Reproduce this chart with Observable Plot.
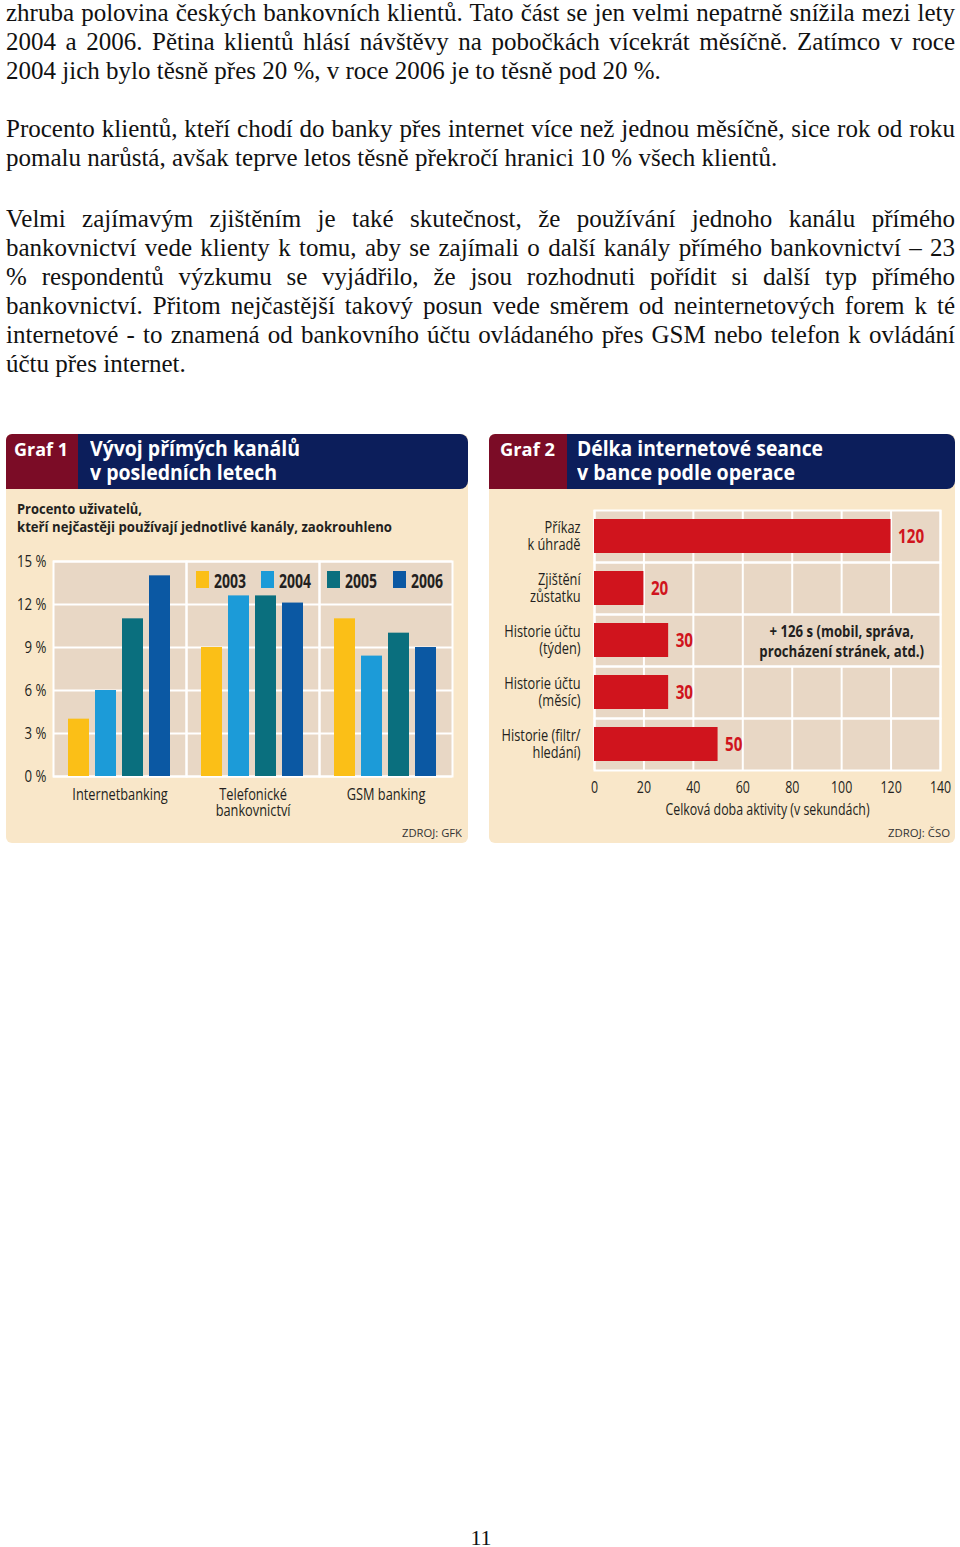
<!DOCTYPE html>
<html><head><meta charset="utf-8">
<script src="https://cdn.jsdelivr.net/npm/d3@7"></script>
<script src="https://cdn.jsdelivr.net/npm/@observablehq/plot@0.6"></script>
<style>
html,body{margin:0;padding:0;background:#fff;}
body{width:960px;height:1547px;position:relative;overflow:hidden;}
.line{position:absolute;left:6px;font-family:"Liberation Serif","Times New Roman",serif;font-size:25px;line-height:29px;white-space:nowrap;color:#111;}
.panel{position:absolute;background:#f9e7c9;border-radius:6px;overflow:hidden;}
.hdr-red{position:absolute;left:0;top:0;height:55px;background:#7b0c26;}
.hdr-navy{position:absolute;top:0;height:55px;background:#0c1e5b;border-radius:0 8px 8px 0;}
.t{position:absolute;white-space:nowrap;font-family:"Open Sans",sans-serif;transform-origin:0 50%;}
.plotbox{position:absolute;left:0;}
.swatch{position:absolute;width:13px;height:17px;}
.pnum{position:absolute;font-family:"Liberation Serif","Times New Roman",serif;font-size:22px;line-height:24px;color:#111;}
</style>
</head>
<body>
<script>
// ---------- Chart 1 data ----------
const channels = ["Internetbanking", "Telefonické bankovnictví", "GSM banking"];
const channelLabels = ["Internetbanking", "Telefonické\nbankovnictví", "GSM banking"];
const years = ["2003", "2004", "2005", "2006"];
const yearColors = ["#fbbf17", "#1c9bd8", "#0a6f7e", "#0b58a3"];
const users2003 = [4, 9, 11];
const users2004 = [6, 12.6, 8.4];
const users2005 = [11, 12.6, 10];
const users2006 = [14, 12.1, 9];
const percentTicks = [0, 3, 6, 9, 12, 15];

// ---------- Chart 2 data ----------
const operations = ["Příkaz k úhradě", "Zjištění zůstatku", "Historie účtu (týden)", "Historie účtu (měsíc)", "Historie (filtr/ hledání)"];
const operationLabels = ["Příkaz\nk úhradě", "Zjištění\nzůstatku", "Historie účtu\n(týden)", "Historie účtu\n(měsíc)", "Historie (filtr/\nhledání)"];
const seconds = [120, 20, 30, 30, 50];
const secondTicks = [0, 20, 40, 60, 80, 100, 120, 140];
const notes = [{operation: "Historie účtu (týden)", text: "+ 126 s (mobil, správa,\nprocházení stránek, atd.)", from: 61, to: 140, at: 100}];

// ---------- Page text ----------
const paragraphs = [
  ["zhruba polovina českých bankovních klientů. Tato část se jen velmi nepatrně snížila mezi lety",
   "2004 a 2006. Pětina klientů hlásí návštěvy na pobočkách vícekrát měsíčně. Zatímco v roce",
   "2004 jich bylo těsně přes 20 %, v roce 2006 je to těsně pod 20 %."],
  ["Procento klientů, kteří chodí do banky přes internet více než jednou měsíčně, sice rok od roku",
   "pomalu narůstá, avšak teprve letos těsně překročí hranici 10 % všech klientů."],
  ["Velmi zajímavým zjištěním je také skutečnost, že používání jednoho kanálu přímého",
   "bankovnictví vede klienty k tomu, aby se zajímali o další kanály přímého bankovnictví – 23",
   "% respondentů výzkumu se vyjádřilo, že jsou rozhodnuti pořídit si další typ přímého",
   "bankovnictví. Přitom nejčastější takový posun vede směrem od neinternetových forem k té",
   "internetové - to znamená od bankovního účtu ovládaného přes GSM nebo telefon k ovládání",
   "účtu přes internet."]
];
const pageNumber = "11";

const BEIGE = "#e8d7c5";
const RED = "#d0141d";
const INK = "#231f20";

// ---------- layout page text ----------
const paraCenters = [12, 128, 218];
const TEXT_W = 949;
paragraphs.forEach((lines, p) => {
  lines.forEach((txt, i) => {
    const d = document.createElement("div");
    d.className = "line";
    d.textContent = txt;
    d.style.top = (paraCenters[p] + i * 29 - 14.5) + "px";
    document.body.appendChild(d);
    if (i < lines.length - 1) {
      const w = d.getBoundingClientRect().width;
      const spaces = (txt.match(/ /g) || []).length;
      d.style.wordSpacing = ((TEXT_W - w) / spaces) + "px";
    }
  });
});
const pn = document.createElement("div");
pn.className = "pnum"; pn.textContent = pageNumber;
document.body.appendChild(pn);
pn.style.left = (481 - pn.getBoundingClientRect().width / 2) + "px";
pn.style.top = (1538 - 12) + "px";

// ---------- helpers ----------
function label(parent, text, x, cy, size, weight, color, w) {
  const d = document.createElement("div");
  d.className = "t"; d.textContent = text;
  Object.assign(d.style, {left: x + "px", top: (cy - size * 0.7) + "px", fontSize: size + "px",
    fontWeight: weight, color, lineHeight: (size * 1.4) + "px"});
  parent.appendChild(d);
  if (w) { const r = d.getBoundingClientRect().width; d.style.transform = `scaleX(${w / r})`; }
  return d;
}
// horizontally condense every SVG text around its own anchor point (svg must be in the DOM)
function condense(svg, k) {
  svg.querySelectorAll("text").forEach(t => {
    const bb = t.getBBox();
    const anchor = getComputedStyle(t).textAnchor;
    const ax = anchor === "end" ? bb.x + bb.width : anchor === "middle" ? bb.x + bb.width / 2 : bb.x;
    const tr = t.getAttribute("transform") || "";
    t.setAttribute("transform", `${tr} translate(${ax},0) scale(${k},1) translate(${-ax},0)`.trim());
  });
}
function panel(left, top, width, height, redW, graf, titles, titleWs, grafW, grafX, titleX) {
  const p = document.createElement("div");
  p.className = "panel";
  Object.assign(p.style, {left: left + "px", top: top + "px", width: width + "px", height: height + "px"});
  document.body.appendChild(p);
  const r = document.createElement("div"); r.className = "hdr-red"; r.style.width = redW + "px"; p.appendChild(r);
  const n = document.createElement("div"); n.className = "hdr-navy";
  n.style.left = redW + "px"; n.style.width = (width - redW) + "px"; p.appendChild(n);
  label(p, graf, grafX, 16, 18, 700, "#fff", grafW);
  label(p, titles[0], titleX, 15, 21, 700, "#fff", titleWs[0]);
  label(p, titles[1], titleX, 39, 21, 700, "#fff", titleWs[1]);
  return p;
}

// ---------- Chart 1 ----------
const p1 = panel(6, 434, 462, 409, 72, "Graf 1", ["Vývoj přímých kanálů", "v posledních letech"], [210, 187], 54, 8, 84);
label(p1, "Procento uživatelů,", 11, 75, 14, 700, INK, 125);
label(p1, "kteří nejčastěji používají jednotlivé kanály, zaokrouhleno", 11, 93, 14, 700, INK, 375);

const series1 = [users2003, users2004, users2005, users2006];
const data1 = [];
channels.forEach((c, i) => series1.forEach((arr, j) => data1.push({channel: c, year: years[j], value: arr[i]})));

const chart1 = Plot.plot({
  width: 462, height: 270, marginTop: 10, marginRight: 16, marginBottom: 45, marginLeft: 46,
  style: {background: "transparent", fontFamily: '"Open Sans", sans-serif', fontSize: "15px", color: INK, overflow: "visible"},
  fx: {domain: channels, padding: 0},
  x: {domain: years, paddingInner: 0.22, paddingOuter: 0.57, axis: null},
  y: {domain: [0, 15]},
  color: {domain: years, range: yearColors},
  marks: [
    Plot.frame({fill: BEIGE}),
    Plot.gridY(percentTicks, {stroke: "#fff", strokeOpacity: 1, strokeWidth: 2}),
    Plot.frame({stroke: "#fff", strokeWidth: 2}),
    Plot.barY(data1, {fx: "channel", x: "year", y: "value", fill: "year"}),
    Plot.axisY(percentTicks, {tickSize: 0, tickPadding: 7, tickFormat: d => d + " %", fontSize: 16.5, label: null}),
    Plot.axisFx({anchor: "bottom", tickSize: 0, tickPadding: 12, fontSize: 16, label: null,
      tickFormat: c => channelLabels[channels.indexOf(c)]})
  ]
});
const box1 = document.createElement("div"); box1.className = "plotbox"; box1.style.top = "117px";
box1.appendChild(chart1); p1.appendChild(box1);
condense(chart1, 0.8);

const legendX = [190, 255, 321, 387];
years.forEach((y, i) => {
  const s = document.createElement("div"); s.className = "swatch";
  Object.assign(s.style, {left: legendX[i] + "px", top: "137px", background: yearColors[i]});
  p1.appendChild(s);
  label(p1, y, legendX[i] + 18, 147, 19, 700, INK, 32);
});
label(p1, "ZDROJ: GFK", 396, 399, 11, 400, "#333", 60);

// ---------- Chart 2 ----------
const p2 = panel(489, 434, 466, 409, 78, "Graf 2", ["Délka internetové seance", "v bance podle operace"], [246, 218], 55, 11, 88);
const data2 = operations.map((op, i) => ({operation: op, seconds: seconds[i]}));

const chart2 = Plot.plot({
  width: 466, height: 320, marginTop: 10, marginRight: 15, marginBottom: 50, marginLeft: 105,
  style: {background: "transparent", fontFamily: '"Open Sans", sans-serif', fontSize: "15px", color: INK, overflow: "visible"},
  fy: {domain: operations, padding: 0},
  x: {domain: [0, 140]},
  marks: [
    Plot.frame({fill: BEIGE}),
    Plot.gridX(secondTicks, {stroke: "#fff", strokeOpacity: 1, strokeWidth: 2}),
    Plot.barX(notes, {fy: "operation", x1: "from", x2: "to", fill: BEIGE}),
    Plot.frame({stroke: "#fff", strokeWidth: 2}),
    Plot.barX(data2, {fy: "operation", x: "seconds", fill: RED, insetTop: 9, insetBottom: 9}),
    Plot.text(data2, {fy: "operation", x: "seconds", text: d => String(d.seconds), dx: 7, textAnchor: "start",
      fill: RED, fontWeight: "bold", fontSize: 19}),
    Plot.text(notes, {fy: "operation", x: "at", text: "text", fontWeight: "bold", fontSize: 16.5, fill: INK, lineHeight: 1.2}),
    Plot.axisX(secondTicks, {tickSize: 0, tickPadding: 11, fontSize: 15.5, label: "Celková doba aktivity (v sekundách)",
      labelAnchor: "center", labelOffset: 44, labelArrow: "none"}),
    Plot.axisFy({anchor: "left", tickSize: 0, tickPadding: 14, fontSize: 16, label: null, lineHeight: 1.05,
      tickFormat: op => operationLabels[operations.indexOf(op)]})
  ]
});
const box2 = document.createElement("div"); box2.className = "plotbox"; box2.style.top = "66px";
box2.appendChild(chart2); p2.appendChild(box2);
condense(chart2, 0.8);
label(p2, "ZDROJ: ČSO", 399, 399, 11, 400, "#333", 62);
</script>
</body></html>
